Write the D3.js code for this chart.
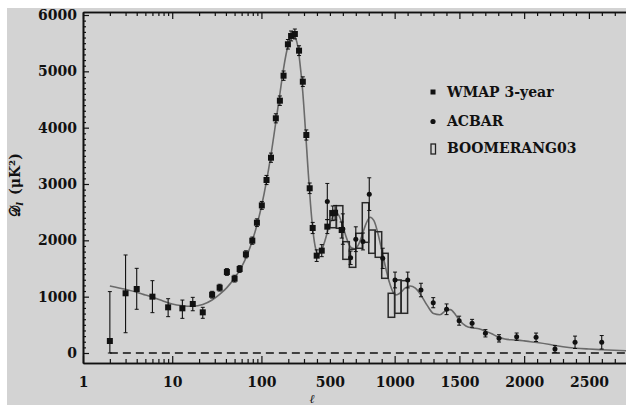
<!DOCTYPE html>
<html><head><meta charset="utf-8">
<script src="https://cdn.jsdelivr.net/npm/d3@7"></script>
<style>body{margin:0;background:#fff}</style>
</head><body>
<svg id="c" width="626" height="405"></svg>
<script>
// ---- data ----
const wmapL  = [2,3,4,6,9,13,17,22,28,34,41,50,57,67,79,89,101,114,128,145,161,177,198,215,237,264,291,318,344,367,398,437,480,522,540,591];
const wmapV  = [213,1060,1136,1000,811,793,870,722,1035,1160,1438,1320,1491,1752,1994,2313,2620,3071,3467,4166,4479,4923,5480,5628,5663,5367,4816,3870,2924,2219,1728,1817,2243,2480,2490,2183];
const wmapLo = [0,360,776,716,645,615,750,616,975,1100,1378,1260,1431,1690,1930,2245,2550,2990,3385,4085,4395,4840,5395,5540,5575,5280,4730,3780,2830,2120,1625,1710,2120,2350,2360,2040];
const wmapHi = [1090,1740,1503,1284,964,940,988,811,1095,1220,1498,1380,1551,1814,2058,2381,2690,3152,3549,4247,4563,5006,5565,5716,5751,5454,4902,3960,3018,2318,1831,1924,2366,2610,2620,2326];

const acbarL   = [480,600,660,700,755,804,908,1003,1101,1203,1298,1401,1498,1598,1701,1806,1942,2092,2238,2393,2599];
const acbarV   = [2690,2200,1690,2020,1980,2820,1680,1296,1296,1118,893,776,574,527,350,260,290,279,71,190,190];
const acbarErr = [320,270,120,220,150,290,180,140,140,120,90,95,80,70,65,65,65,75,60,110,120];

const boomL  = [525,575,625,675,725,775,825,875,925,975,1025,1075];
const boomLo = [2224,2214,1663,1521,1859,1965,1770,1699,1326,634,705,705];
const boomHi = [2526,2615,1976,1841,2125,2668,2183,2153,1770,1060,1296,1284];
const boomHalf = 25;

const modelL = [2,3,4,5,6,8,10,13,17,22,28,34,41,50,60,70,80,90,100,114,128,145,161,177,198,215,228,240,255,270,290,310,330,350,370,390,410,430,460,500,530,550,570,600,630,660,690,720,750,780,810,840,870,900,930,960,990,1010,1040,1080,1120,1160,1200,1250,1300,1350,1400,1430,1470,1500,1550,1600,1650,1700,1750,1800,1850,1900,1950,2000,2050,2100,2200,2300,2400,2500,2600,2800];
const modelV = [1190,1130,1080,1030,990,920,870,840,830,860,940,1040,1160,1330,1530,1760,2020,2300,2600,3050,3520,4100,4600,5050,5450,5620,5650,5600,5450,5150,4650,4000,3300,2650,2150,1850,1750,1790,1980,2300,2460,2490,2440,2250,2030,1880,1850,1920,2100,2300,2410,2350,2130,1830,1520,1250,1070,1030,1060,1150,1190,1150,1040,850,700,680,760,770,680,580,480,445,430,390,340,285,250,235,228,215,200,185,150,110,85,70,58,40];

const yTicks = [0,1000,2000,3000,4000,5000,6000];
const xMajor = [1,10,100,1000,1500,2000,2500];
const xLabels = [1,10,100,500,1000,1500,2000,2500];
const xMinor = [2,3,4,5,6,7,8,9,20,30,40,50,60,70,80,90,200,300,400,500,600,700,800,900,1100,1200,1300,1400,1600,1700,1800,1900,2100,2200,2300,2400,2600,2700];
const legendItems = ["WMAP 3-year","ACBAR","BOOMERANG03"];

// ---- layout ----
const L = 83, T = 12, B = 363, R = 628;
const svg = d3.select("#c");
svg.append("rect").attr("x",7).attr("y",8).attr("width",626).attr("height",405).attr("fill","#d3d3d3");

const xLog = d3.scaleLog().domain([1,300]).range([L,304]);
const xLin = d3.scaleLinear().domain([300,2800]).range([304,304+2500*0.1295]);
function makeX(){ const f = l => l<=300 ? xLog(l) : xLin(l); f.copy = makeX; f.range = () => [L,R]; f.domain = () => [1,2800]; return f; }
const x = makeX();
const y = d3.scaleLinear().domain([-177.5,6053.3]).range([B,T]);
const yMinor = d3.range(0,6001,100).filter(v => v%1000 !== 0);
const fmt = d3.format("d");

const font = "'DejaVu Serif', serif";
svg.append("clipPath").attr("id","pc").append("rect").attr("x",L).attr("y",T).attr("width",R-L).attr("height",B-T);
const plot = svg.append("g").attr("clip-path","url(#pc)");

// zero dashed line
plot.append("line").attr("x1",x(2)).attr("x2",R).attr("y1",y(0)).attr("y2",y(0))
  .attr("stroke","#111").attr("stroke-width",1.3).attr("stroke-dasharray","8,5");

// model curve
const pts = modelL.map((l,i)=>[x(l),y(modelV[i])]);
plot.append("path").attr("d",d3.line().curve(d3.curveMonotoneX)(pts))
  .attr("fill","none").attr("stroke","#6a6a6a").attr("stroke-width",1.6);

// boomerang boxes
plot.selectAll(".boom").data(boomL).join("rect")
  .attr("x",(d)=>x(d-boomHalf)).attr("width",(d)=>x(d+boomHalf)-x(d-boomHalf))
  .attr("y",(d,i)=>y(boomHi[i])).attr("height",(d,i)=>y(boomLo[i])-y(boomHi[i]))
  .attr("fill","none").attr("stroke","#2a2a2a").attr("stroke-width",1.5);

// error bars helper
function errbar(g, xs, lo, hi, cap){
  xs.forEach((xx,i)=>{
    g.append("line").attr("x1",xx).attr("x2",xx).attr("y1",lo[i]).attr("y2",hi[i]).attr("stroke","#111").attr("stroke-width",1.1);
    g.append("line").attr("x1",xx-cap).attr("x2",xx+cap).attr("y1",lo[i]).attr("y2",lo[i]).attr("stroke","#111").attr("stroke-width",1);
    g.append("line").attr("x1",xx-cap).attr("x2",xx+cap).attr("y1",hi[i]).attr("y2",hi[i]).attr("stroke","#111").attr("stroke-width",1);
  });
}
const eg = plot.append("g");
errbar(eg, acbarL.map(x), acbarL.map((l,i)=>y(acbarV[i]-acbarErr[i])), acbarL.map((l,i)=>y(acbarV[i]+acbarErr[i])), 2);
errbar(eg, wmapL.map(x), wmapLo.map(y), wmapHi.map(y), 2);

// ACBAR circles
plot.selectAll(".ac").data(acbarL).join("circle")
  .attr("cx",d=>x(d)).attr("cy",(d,i)=>y(acbarV[i])).attr("r",2.5).attr("fill","#111");
// WMAP squares
plot.selectAll(".wm").data(wmapL).join("rect")
  .attr("x",d=>x(d)-3).attr("y",(d,i)=>y(wmapV[i])-3).attr("width",6).attr("height",6).attr("fill","#111");

// axes
function styleAxis(g){ g.selectAll("path.domain").attr("stroke","#111").attr("stroke-width",1.6); g.selectAll(".tick line").attr("stroke","#111").attr("stroke-width",1.2); g.selectAll("text").remove(); }
svg.append("g").attr("transform",`translate(0,${B})`).call(d3.axisBottom(x).tickValues(xMajor).tickSize(-7).tickSizeOuter(0)).call(styleAxis);
svg.append("g").attr("transform",`translate(0,${B})`).call(d3.axisBottom(x).tickValues(xMinor).tickSize(-4).tickSizeOuter(0)).call(styleAxis);
svg.append("g").attr("transform",`translate(0,${T})`).call(d3.axisTop(x).tickValues(xMajor).tickSize(-7).tickSizeOuter(0)).call(styleAxis);
svg.append("g").attr("transform",`translate(0,${T})`).call(d3.axisTop(x).tickValues(xMinor).tickSize(-4).tickSizeOuter(0)).call(styleAxis);
svg.append("g").attr("transform",`translate(${L},0)`).call(d3.axisLeft(y).tickValues(yTicks).tickSize(-6).tickSizeOuter(0)).call(styleAxis);
svg.append("g").attr("transform",`translate(${L},0)`).call(d3.axisLeft(y).tickValues(yMinor).tickSize(-3).tickSizeOuter(0)).call(styleAxis);

// labels
const xl = svg.append("g").attr("transform",`translate(0,${B})`).call(d3.axisBottom(x).tickValues(xLabels).tickFormat(fmt).tickSize(0).tickPadding(14).tickSizeOuter(0));
xl.select("path.domain").remove();
xl.selectAll("text").attr("font-family",font).attr("font-weight","bold").attr("font-size",14).attr("fill","#111");
const yl = svg.append("g").attr("transform",`translate(${L},0)`).call(d3.axisLeft(y).tickValues(yTicks).tickFormat(fmt).tickSize(0).tickPadding(6).tickSizeOuter(0));
yl.select("path.domain").remove();
yl.selectAll("text").attr("font-family",font).attr("font-weight","bold").attr("font-size",14).attr("fill","#111");

// axis titles
const yt = svg.append("text").attr("transform","translate(20,185) rotate(-90)").attr("text-anchor","middle")
  .attr("font-family",font).attr("font-weight","bold").attr("font-size",14).attr("fill","#111");
yt.append("tspan").text("𝒟");
yt.append("tspan").attr("font-size",10).attr("dy",3).attr("font-style","italic").text("l");
yt.append("tspan").attr("dy",-3).text("\u2002(μK²)");
svg.append("text").attr("x",312).attr("y",403).attr("text-anchor","middle").attr("font-family",font).attr("font-style","italic").attr("font-size",12).attr("fill","#111").text("ℓ");

// legend
const lg = svg.append("g").attr("font-family",font).attr("font-weight","bold").attr("font-size",14).attr("fill","#111");
const ly = [97,126,153];
lg.selectAll("text").data(legendItems).join("text").attr("x",447).attr("y",(d,i)=>ly[i]).text(d=>d);
lg.append("rect").attr("x",430.5).attr("y",89.5).attr("width",5).attr("height",5).attr("fill","#111");
lg.append("circle").attr("cx",433).attr("cy",121.5).attr("r",2.6).attr("fill","#111");
lg.append("rect").attr("x",431).attr("y",144).attr("width",4.5).attr("height",10).attr("fill","none").attr("stroke","#222").attr("stroke-width",1.3);
</script>
</body></html>
